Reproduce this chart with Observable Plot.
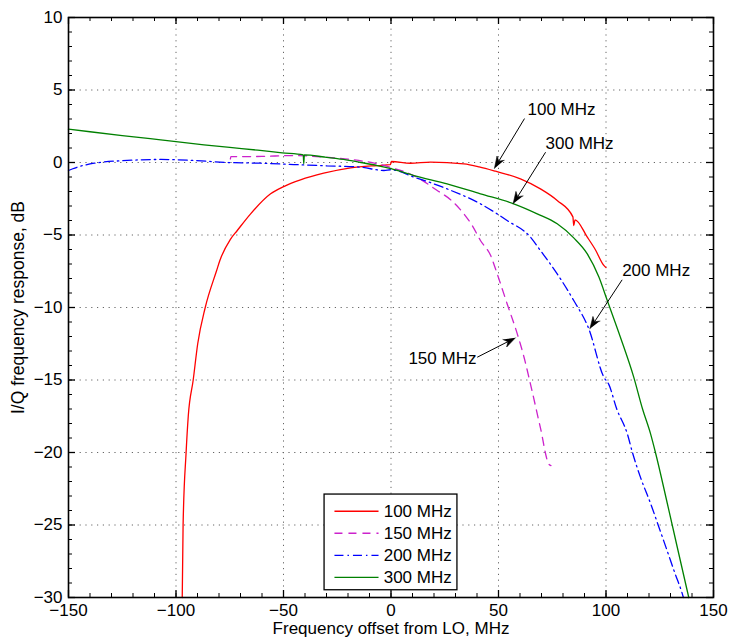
<!DOCTYPE html>
<html>
<head>
<meta charset="utf-8">
<script src="https://cdn.jsdelivr.net/npm/d3@7"></script>
<script src="https://cdn.jsdelivr.net/npm/@observablehq/plot@0.6"></script>
<style>
  html, body { margin: 0; padding: 0; background: #fff; }
  #chart { width: 729px; height: 639px; }
</style>
</head>
<body>
<div id="chart"></div>
<script>
// I/Q frequency response versus offset from the LO, for four bandwidth settings.
// Each series: [offset MHz, response dB]
const resp100 = [
  [-97.1, -30], [-96.7, -25], [-95.3, -20], [-94.3, -17.5], [-92.0, -15], [-89.9, -12.5],
  [-86.4, -10], [-81.1, -7.45], [-79.6, -6.76], [-74.7, -5.3], [-71.5, -4.69], [-65.3, -3.54],
  [-56, -2.16], [-49.9, -1.66], [-42.1, -1.2], [-31.3, -0.74], [-18.8, -0.37], [-6.4, -0.21],
  [-0.3, -0.15], [0.2, 0.07], [9, -0.05], [18.4, 0.02], [33.9, -0.1], [41, -0.3], [48.6, -0.6],
  [60.2, -1.13], [69.5, -1.82], [77.3, -2.62], [84.6, -3.75], [85, -4.35], [85.6, -3.95],
  [91.3, -5.15], [95, -6.0], [99, -7.1], [100, -7.25]
];
const resp150 = [
  [-74.7, 0.25], [-74.5, 0.4], [-60, 0.42], [-45.2, 0.48], [-30, 0.36], [-18.8, 0.21],
  [-6.4, -0.09], [0, -0.35], [10.6, -0.9], [21.5, -1.93], [28, -2.6], [33.9, -3.54],
  [38, -4.4], [41.6, -5.38], [46.3, -6.4], [49.4, -7.68], [54, -9.74], [58.7, -11.8],
  [62, -13.5], [64.9, -15.3], [69.5, -18.3], [73.4, -20.8], [74.4, -20.9]
];
const resp200 = [
  [-150, -0.55], [-148, -0.43], [-138, -0.05], [-122.7, 0.14], [-107, 0.21], [-91.7, 0.14],
  [-76, 0], [-60.7, -0.05], [-45.2, -0.14], [-29.7, -0.23], [-14.2, -0.32], [-3.3, -0.55],
  [0, -0.5], [10.6, -1.0], [26.1, -1.82], [41.6, -2.85], [54, -4.0], [64.9, -5.15],
  [69.5, -6.07], [77.3, -7.68], [85, -9.52], [92, -11.47], [99, -14.8], [101.3, -15.3],
  [105, -17.0], [109.9, -18.7], [112.3, -20], [116, -21.7], [120.7, -23.5], [124.5, -25.1],
  [128.5, -26.8], [132, -28.3], [135.4, -29.7], [136, -30]
];
const resp300 = [
  [-150, 2.3], [-140, 2.12], [-125, 1.86], [-112, 1.64], [-101, 1.45], [-87, 1.22],
  [-75, 1.04], [-62, 0.85], [-50.6, 0.67], [-40.8, 0.53], [-40.6, -0.09], [-40.3, 0.52],
  [-31, 0.38], [-22, 0.21], [-14, 0.0], [-6.4, -0.21], [0, -0.43], [10.6, -0.9],
  [26.1, -1.47], [41.6, -2.16], [57.1, -2.85], [68, -3.54], [77.3, -4.23], [85, -5.2],
  [91.3, -6.3], [96.7, -7.9], [100.6, -9.52], [106.7, -12.05], [112.9, -14.8],
  [117, -17.0], [120.7, -18.7], [123, -20], [128.5, -23.5], [133.1, -26.5], [138.5, -30]
];

const seriesNames = ["100 MHz", "150 MHz", "200 MHz", "300 MHz"];
const seriesData = [resp100, resp150, resp200, resp300];
const seriesColors = ["#ff0000", "#cc22cc", "#0000ff", "#008000"];
const seriesDash = [null, "8,6", "9,4,1.5,4", null];

const xMajor = [-150, -100, -50, 0, 50, 100, 150];
const yMajor = [-30, -25, -20, -15, -10, -5, 0, 5, 10];
const xMinor = d3.range(-140, 150, 10);
const yMinor = d3.range(-29, 10, 1);

// Arrow annotations: label anchor, arrow tail, arrow tip
const noteLabels = ["100 MHz", "300 MHz", "200 MHz", "150 MHz"];
const noteText = [[63.5, 3.66], [71.9, 1.29], [107.5, -7.45], [8.1, -13.5]];
const noteTail = [[62.1, 3.03], [71.9, 0.71], [107.5, -8.09], [40.1, -13.43]];
const noteTip = [[48.1, -0.41], [56.8, -2.85], [92.5, -11.47], [57.9, -12.09]];

// Layout
const W = 729, H = 639;
const mL = 68, mR = 16, mT = 17, mB = 42;
const xDomain = [-150, 150], yDomain = [-30, 10];
const kx = (W - mL - mR) / (xDomain[1] - xDomain[0]);   // px per MHz
const ky = (H - mT - mB) / (yDomain[1] - yDomain[0]);   // px per dB
const frameH = H - mT - mB, frameW = W - mL - mR;
const font = "'Liberation Sans', Arial, Helvetica, sans-serif";

// Filled, notched arrowheads built in pixel space so they are not distorted
const headLen = 12, headHalf = 4.2, headNotch = 8.5;
const shafts = [], heads = [];
noteTip.forEach((tip, i) => {
  const tail = noteTail[i];
  const px = (tip[0] - tail[0]) * kx, py = -(tip[1] - tail[1]) * ky;
  const len = Math.hypot(px, py);
  const ux = px / len, uy = py / len, nx = -uy, ny = ux;
  const toData = (ox, oy) => [tip[0] + ox / kx, tip[1] - oy / ky];
  const notch = toData(-headNotch * ux, -headNotch * uy);
  shafts.push({x1: tail[0], y1: tail[1], x2: notch[0], y2: notch[1]});
  const pts = [
    [0, 0],
    [-headLen * ux + headHalf * nx, -headLen * uy + headHalf * ny],
    [-headNotch * ux, -headNotch * uy],
    [-headLen * ux - headHalf * nx, -headLen * uy - headHalf * ny]
  ];
  pts.forEach(([ox, oy]) => {
    const [x, y] = toData(ox, oy);
    heads.push({id: i, x, y});
  });
});

// Legend box inside the axes, in axis units
const legendBox = {x1: -30.9, x2: 30.9, y1: -22.9, y2: -29.5};
const legendRows = seriesNames.map((name, i) => ({
  name, color: seriesColors[i], dash: seriesDash[i],
  y: -24.05 - i * 1.52, xa: -26.3, xb: -5.8, xt: -3.4
}));

const lineMarks = seriesData.map((d, i) =>
  Plot.line(d, {
    x: d => d[0], y: d => d[1], curve: "monotone-x",
    stroke: seriesColors[i], strokeWidth: 1.3,
    strokeDasharray: seriesDash[i] ?? undefined,
    strokeLinejoin: "round"
  })
);

const legendMarks = legendRows.flatMap(r => [
  Plot.link([r], {x1: "xa", x2: "xb", y1: "y", y2: "y", stroke: r.color, strokeWidth: 1.3,
    strokeDasharray: r.dash ?? undefined}),
  Plot.text([r], {x: "xt", y: "y", text: "name", textAnchor: "start", fill: "#000", fontSize: 17})
]);

const tickMarks = [
  // minor ticks on all four sides
  Plot.ruleX(xMinor, {stroke: "#000", strokeWidth: 1, insetTop: frameH - 4}),
  Plot.ruleX(xMinor, {stroke: "#000", strokeWidth: 1, insetBottom: frameH - 4}),
  Plot.ruleY(yMinor, {stroke: "#000", strokeWidth: 1, insetRight: frameW - 4}),
  Plot.ruleY(yMinor, {stroke: "#000", strokeWidth: 1, insetLeft: frameW - 4}),
  // major ticks
  Plot.ruleX(xMajor, {stroke: "#000", strokeWidth: 1.3, insetTop: frameH - 7}),
  Plot.ruleX(xMajor, {stroke: "#000", strokeWidth: 1.3, insetBottom: frameH - 7}),
  Plot.ruleY(yMajor, {stroke: "#000", strokeWidth: 1.3, insetRight: frameW - 7}),
  Plot.ruleY(yMajor, {stroke: "#000", strokeWidth: 1.3, insetLeft: frameW - 7})
];

const chart = Plot.plot({
  width: W, height: H,
  marginLeft: mL, marginRight: mR, marginTop: mT, marginBottom: mB,
  style: {fontFamily: font, fontSize: "17px", background: "#fff", color: "#000"},
  x: {domain: xDomain, ticks: xMajor, tickSize: 0, tickPadding: 6, label: null},
  y: {domain: yDomain, ticks: yMajor, tickSize: 0, tickPadding: 6, label: null},
  marks: [
    Plot.ruleX(xMajor.slice(1, -1), {stroke: "#666", strokeWidth: 1, strokeDasharray: "1.2,4.6"}),
    Plot.ruleY(yMajor.slice(1, -1), {stroke: "#666", strokeWidth: 1, strokeDasharray: "1.2,4.6"}),
    ...lineMarks,
    Plot.link(shafts, {x1: "x1", y1: "y1", x2: "x2", y2: "y2", stroke: "#000", strokeWidth: 1}),
    Plot.line(heads, {x: "x", y: "y", z: "id", fill: "#000", stroke: "#000", strokeWidth: 0.6}),
    Plot.text(noteLabels.map((t, i) => ({t, x: noteText[i][0], y: noteText[i][1]})),
      {x: "x", y: "y", text: "t", textAnchor: "start", fill: "#000", fontSize: 17}),
    Plot.rect([legendBox], {x1: "x1", x2: "x2", y1: "y1", y2: "y2", fill: "#fff", stroke: "#000", strokeWidth: 1.3}),
    ...legendMarks,
    ...tickMarks,
    Plot.frame({stroke: "#000", strokeWidth: 1.6}),
    Plot.text(["Frequency offset from LO, MHz"], {frameAnchor: "bottom", dy: 31, lineAnchor: "middle", fill: "#000", fontSize: 17, textAnchor: "middle"}),
    Plot.text(["I/Q frequency response, dB"], {frameAnchor: "left", dx: -50, rotate: -90, fill: "#000", fontSize: 17.5, textAnchor: "middle"})
  ]
});

document.getElementById("chart").appendChild(chart);
</script>
</body>
</html>
